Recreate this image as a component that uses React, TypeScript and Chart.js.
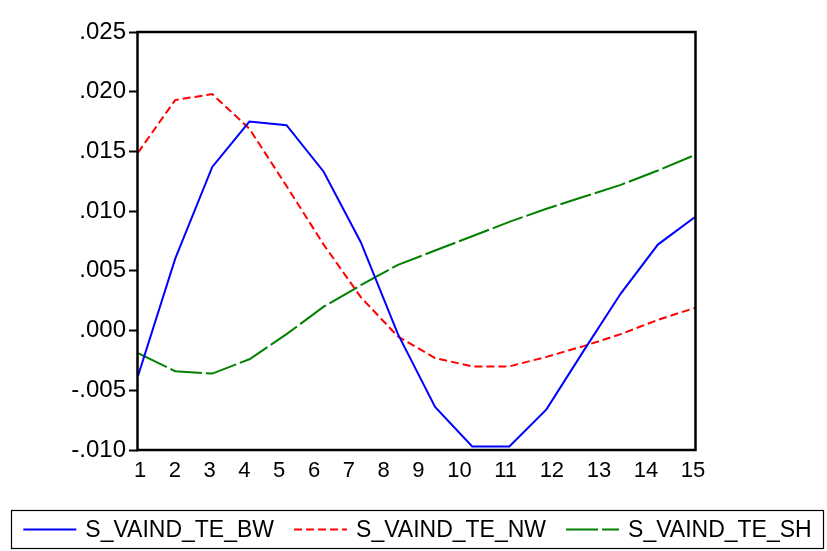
import React, { useEffect, useRef } from "react";
import { Chart, registerables } from "chart.js";

Chart.register(...registerables);

// Response periods (one per computed step)
const periods = [1, 2, 3, 4, 5, 6, 7, 8, 9, 10, 11, 12, 13, 14, 15, 16];

// Labels printed under the horizontal axis
const xTickLabels = ["1", "2", "3", "4", "5", "6", "7", "8", "9", "10", "11", "12", "13", "14", "15"];

const seriesBW = [
  -0.0038, 0.006, 0.0137, 0.0175, 0.0172, 0.0133, 0.0074, -0.0003,
  -0.0064, -0.0097, -0.0097, -0.0066, -0.0017, 0.0031, 0.0072, 0.0095,
];
const seriesNW = [
  0.0149, 0.0193, 0.0198, 0.0169, 0.0121, 0.0072, 0.0028, -0.0005,
  -0.0023, -0.003, -0.003, -0.0022, -0.0013, -0.0003, 0.0009, 0.0019,
];
const seriesSH = [
  -0.0019, -0.0034, -0.0036, -0.0024, -0.0003, 0.002, 0.0038, 0.0055,
  0.0067, 0.0079, 0.0091, 0.0102, 0.0112, 0.0122, 0.0134, 0.0147,
];

const seriesNames = ["S_VAIND_TE_BW", "S_VAIND_TE_NW", "S_VAIND_TE_SH"];

const FONT = '"Liberation Sans", Arial, sans-serif';

const toPoints = (vals: number[]) => vals.map((v, i) => ({ x: periods[i], y: v }));

// Frame, spaced-out period labels and boxed legend
const framePlugin = {
  id: "frameAndLegend",
  afterDraw(chart: any) {
    const { ctx, chartArea: a } = chart;
    ctx.save();

    // plot frame
    ctx.strokeStyle = "#000";
    ctx.lineWidth = 2.5;
    ctx.strokeRect(a.left - 0.5, a.top, a.right - a.left + 1, a.bottom - a.top);

    // period labels, laid out with equal gaps between them
    ctx.font = `22px ${FONT}`;
    ctx.fillStyle = "#000";
    ctx.textAlign = "center";
    ctx.textBaseline = "alphabetic";
    const widths = xTickLabels.map((t) => ctx.measureText(t).width);
    const n = xTickLabels.length;
    const c0 = a.left + 2;
    const cN = a.right - 2;
    let inner = 0;
    for (let i = 0; i < n - 1; i++) inner += widths[i] / 2 + widths[i + 1] / 2;
    const gap = (cN - c0 - inner) / (n - 1);
    let cx = c0;
    for (let i = 0; i < n; i++) {
      ctx.fillText(xTickLabels[i], cx, a.bottom + 27);
      if (i < n - 1) cx += widths[i] / 2 + gap + widths[i + 1] / 2;
    }

    // legend box
    const boxL = 11.5, boxT = 510.5, boxW = 812, boxH = 38;
    ctx.lineWidth = 1.2;
    ctx.setLineDash([]);
    ctx.strokeRect(boxL, boxT, boxW, boxH);

    ctx.font = `23px ${FONT}`;
    const sampleLen = 53, sampleGap = 9, entryGap = 20;
    const ds = chart.data.datasets;
    const tw = ds.map((d: any) => ctx.measureText(d.label).width);
    let total = 0;
    ds.forEach((_: any, i: number) => {
      total += sampleLen + sampleGap + tw[i];
      if (i < ds.length - 1) total += entryGap;
    });
    let x = boxL + boxW / 2 - total / 2;
    const ly = boxT + boxH / 2;
    ctx.textAlign = "left";
    ctx.textBaseline = "middle";
    ds.forEach((d: any, i: number) => {
      ctx.strokeStyle = d.borderColor;
      ctx.lineWidth = 2;
      ctx.setLineDash(d.borderDash || []);
      ctx.beginPath();
      ctx.moveTo(x, ly);
      ctx.lineTo(x + sampleLen, ly);
      ctx.stroke();
      ctx.setLineDash([]);
      x += sampleLen + sampleGap;
      ctx.fillStyle = "#000";
      ctx.fillText(d.label, x, ly + 1);
      x += tw[i] + entryGap;
    });

    ctx.restore();
  },
};

export default function App() {
  const ref = useRef<HTMLCanvasElement | null>(null);

  useEffect(() => {
    if (!ref.current) return;
    const chart = new Chart(ref.current, {
      type: "line",
      data: {
        datasets: [
          {
            label: seriesNames[0],
            data: toPoints(seriesBW),
            borderColor: "#0000FF",
            borderWidth: 2,
            pointRadius: 0,
            tension: 0,
          },
          {
            label: seriesNames[1],
            data: toPoints(seriesNW),
            borderColor: "#FF0000",
            borderWidth: 2,
            borderDash: [8, 4],
            pointRadius: 0,
            tension: 0,
          },
          {
            label: seriesNames[2],
            data: toPoints(seriesSH),
            borderColor: "#008000",
            borderWidth: 2,
            borderDash: [32, 4],
            pointRadius: 0,
            tension: 0,
          },
        ],
      },
      options: {
        responsive: false,
        animation: false,
        layout: { padding: { left: 0, top: 32, right: 132, bottom: 101 } },
        plugins: {
          legend: { display: false },
          tooltip: { enabled: false },
        },
        scales: {
          x: {
            type: "linear",
            min: 1,
            max: 16,
            display: false,
          },
          y: {
            min: -0.01,
            max: 0.025,
            afterFit: (s: any) => {
              s.width = 138;
            },
            border: { display: false },
            grid: {
              drawOnChartArea: false,
              drawTicks: true,
              tickLength: 9,
              tickColor: "#000",
              tickWidth: 2,
            },
            ticks: {
              stepSize: 0.005,
              padding: 3,
              color: "#000",
              font: { family: FONT, size: 24 },
              callback: (v: any) => {
                const r = Math.round(Number(v) * 1000) / 1000;
                return r.toFixed(3).replace("0.", ".");
              },
            },
          },
        },
      },
      plugins: [framePlugin],
    });
    return () => chart.destroy();
  }, []);

  return (
    <div style={{ position: "fixed", left: 0, top: 0, width: 827, height: 551, background: "#fff" }}>
      <canvas ref={ref} width={827} height={551} />
    </div>
  );
}
